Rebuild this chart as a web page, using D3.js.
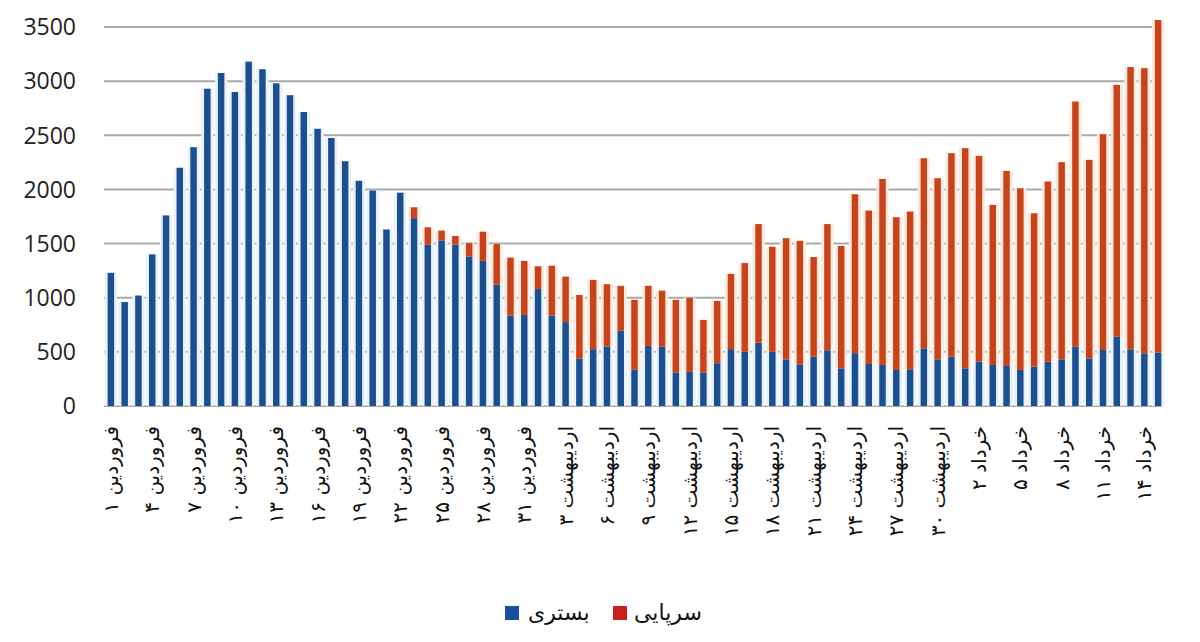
<!DOCTYPE html>
<head>
<meta charset="utf-8">
<title>بستری و سرپایی</title>
  <style>
  body { margin: 0; background: #fff; }
  .grid line { stroke: #a9a9a9; stroke-width: 2; }
  .ytick { font-family: "Open Sans", sans-serif; font-size: 23px; fill: #222; }
  .xtick { font-family: "DejaVu Sans", sans-serif; font-size: 20px; fill: #111; }
  .legend text { font-family: "DejaVu Sans", sans-serif; font-size: 22px; fill: #111; }
  </style>
</head>

<body>

  <script src="https://cdn.jsdelivr.net/npm/d3@7/dist/d3.min.js"></script>

  <script>

    // month lengths used to name every daily bar (1 Farvardin .. 15 Khordad)
    var months = [["فروردین", 31], ["اردیبهشت", 31], ["خرداد", 15]];

    // tick labels shown under every third bar
    var tickLabels = [
      "فروردین ۱", "فروردین ۴", "فروردین ۷", "فروردین ۱۰", "فروردین ۱۳", "فروردین ۱۶",
      "فروردین ۱۹", "فروردین ۲۲", "فروردین ۲۵", "فروردین ۲۸", "فروردین ۳۱",
      "۳ اردیبهشت", "۶ اردیبهشت", "۹ اردیبهشت", "۱۲ اردیبهشت", "۱۵ اردیبهشت",
      "۱۸ اردیبهشت", "۲۱ اردیبهشت", "۲۴ اردیبهشت", "۲۷ اردیبهشت", "۳۰ اردیبهشت",
      "۲ خرداد", "۵ خرداد", "۸ خرداد", "۱۱ خرداد", "۱۴ خرداد"
    ];

    // بستری (hospitalised) - blue
    var bastari = [
      1230, 960, 1020, 1400, 1760, 2200, 2390, 2930, 3075, 2900,
      3180, 3110, 2980, 2870, 2715, 2560, 2475, 2260, 2080, 1990,
      1630, 1970, 1735, 1490, 1530, 1490, 1380, 1340, 1120, 835,
      840, 1080, 835, 775, 440, 525, 550, 695, 335, 555,
      550, 310, 315, 310, 395, 525, 500, 585, 500, 430,
      385, 455, 515, 348, 488, 388, 379, 333, 339, 533,
      431, 456, 348, 410, 379, 370, 333, 363, 410, 431,
      548, 440, 517, 640, 524, 487, 493
    ];

    // سرپایی (outpatient) - red, stacked on top
    var sarpaei = [
      0, 0, 0, 0, 0, 0, 0, 0, 0, 0,
      0, 0, 0, 0, 0, 0, 0, 0, 0, 0,
      0, 0, 100, 160, 90, 80, 125, 270, 375, 535,
      500, 210, 460, 420, 585, 640, 575, 415, 645, 555,
      515, 670, 685, 485, 575, 695, 820, 1095, 970, 1120,
      1140, 920, 1165, 1130, 1467, 1417, 1718, 1410, 1457, 1755,
      1673, 1879, 2033, 1900, 1478, 1801, 1678, 1417, 1663, 1821,
      2264, 1833, 1993, 2326, 2606, 2633, 3072
    ];

    var yTicks = [0, 500, 1000, 1500, 2000, 2500, 3000, 3500];

    var categories = [];
    months.forEach(function (m) {
      for (var i = 1; i <= m[1]; i++) categories.push(m[0] + " " + i);
    });

    var data = categories.map(function (c, i) {
      return { cat: c, bastari: bastari[i], sarpaei: sarpaei[i] };
    });

    var width = 1200, height = 642;
    var plot = { left: 104, right: 1165, top: 27, bottom: 406 };

    var svg = d3.select("body").append("svg")
                .attr("width", width)
                .attr("height", height);

    var x = d3.scaleBand()
              .domain(categories)
              .range([plot.left, plot.right])
              .paddingInner(0.53)
              .paddingOuter(0.265);

    var y = d3.scaleLinear().domain([0, 3500]).range([plot.bottom, plot.top]);

    // horizontal grid lines
    svg.append("g").attr("class", "grid")
       .selectAll("line")
       .data(yTicks)
       .enter().append("line")
       .attr("x1", plot.left)
       .attr("x2", plot.right - 3)
       .attr("y1", function (d) { return y(d); })
       .attr("y2", function (d) { return y(d); });

    // y axis labels
    svg.append("g")
       .selectAll("text")
       .data(yTicks)
       .enter().append("text")
       .attr("class", "ytick")
       .attr("x", 76)
       .attr("y", function (d) { return y(d); })
       .attr("dy", "0.36em")
       .attr("text-anchor", "end")
       .text(function (d) { return d; });

    var stack = d3.stack().keys(["bastari", "sarpaei"]);
    var series = stack(data);
    var colors = { bastari: "#1f4e8d", sarpaei: "#c4441e" };
    var halo = { bastari: "#e6f3fb", sarpaei: "#fde8dc" };

    // soft glow behind bars
    svg.append("g")
       .selectAll("g")
       .data(series)
       .enter().append("g")
       .attr("fill", function (s) { return halo[s.key]; })
       .selectAll("rect")
       .data(function (s) { return s; })
       .enter().append("rect")
       .attr("x", function (d) { return x(d.data.cat) - x.bandwidth() * 0.45; })
       .attr("width", x.bandwidth() * 1.9)
       .attr("y", function (d) { return y(d[1]); })
       .attr("height", function (d) { return Math.max(0, y(d[0]) - y(d[1])); });

    // bars
    svg.append("g")
       .selectAll("g")
       .data(series)
       .enter().append("g")
       .attr("fill", function (s) { return colors[s.key]; })
       .selectAll("rect")
       .data(function (s) { return s; })
       .enter().append("rect")
       .attr("x", function (d) { return x(d.data.cat); })
       .attr("width", x.bandwidth())
       .attr("y", function (d) { return y(d[1]); })
       .attr("height", function (d) { return Math.max(0, y(d[0]) - y(d[1])); });

    // x labels every third day, rotated
    svg.append("g")
       .selectAll("text")
       .data(tickLabels)
       .enter().append("text")
       .attr("class", "xtick")
       .attr("text-anchor", "end")
       .attr("transform", function (d, i) {
         var cx = x(categories[i * 3]) + x.bandwidth() / 2;
         return "translate(" + cx + ",426) rotate(-90)";
       })
       .attr("dy", "0.35em")
       .text(function (d) { return d; });

    // legend
    var legendItems = [
      { key: "bastari", label: "بستری", sx: 505, tx: 528 },
      { key: "sarpaei", label: "سرپایی", sx: 613, tx: 634 }
    ];
    var legend = svg.append("g").attr("class", "legend");
    legend.selectAll("rect")
       .data(legendItems)
       .enter().append("rect")
       .attr("x", function (d) { return d.sx; })
       .attr("y", 606)
       .attr("width", 14)
       .attr("height", 14)
       .attr("fill", function (d) { return d.key == "bastari" ? "#1a4fa0" : "#c8201c"; });
    legend.selectAll("text")
       .data(legendItems)
       .enter().append("text")
       .attr("x", function (d) { return d.tx; })
       .attr("y", 620)
       .attr("text-anchor", "start")
       .text(function (d) { return d.label; });

  </script>

</body>
